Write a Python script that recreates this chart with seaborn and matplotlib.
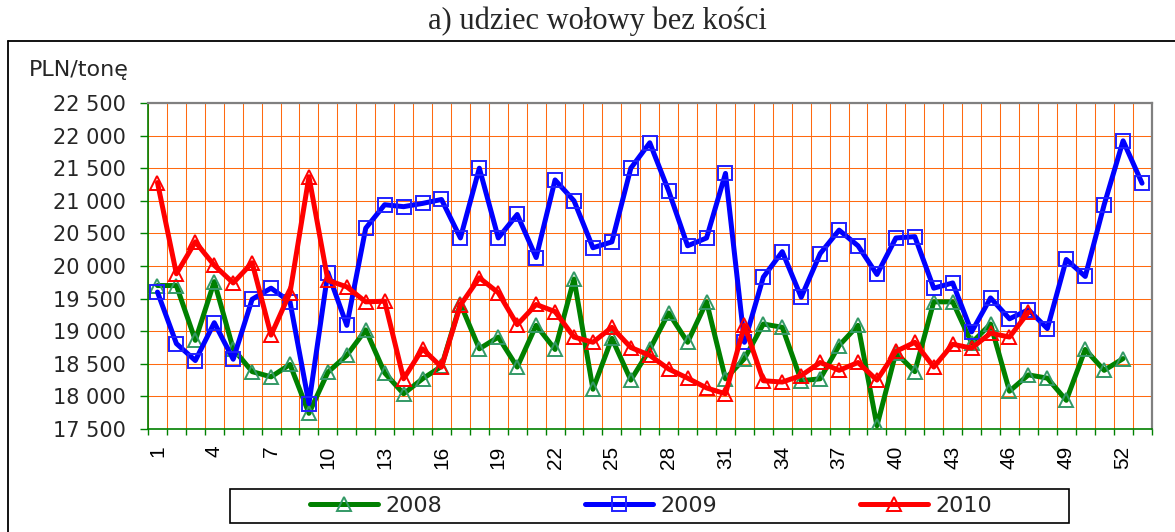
import numpy as np
import pandas as pd
import seaborn as sns
import matplotlib
matplotlib.use("Agg")
import matplotlib.pyplot as plt
from matplotlib.lines import Line2D
from matplotlib.patches import Rectangle
from matplotlib.ticker import FixedLocator, FixedFormatter

# Weekly prices, PLN per tonne
prices_2008 = [19700, 19700, 18860, 19760, 18730, 18380, 18300, 18490, 17740, 18370,
               18630, 19020, 18360, 18040, 18270, 18460, 19420, 18730, 18910, 18450,
               19090, 18720, 19800, 18110, 18890, 18250, 18720, 19280, 18830, 19450,
               18270, 18580, 19110, 19060, 18240, 18270, 18780, 19090, 17550, 18670,
               18380, 19450, 19450, 18820, 19110, 18080, 18330, 18280, 17940, 18720,
               18400, 18580]
prices_2009 = [19600, 18810, 18550, 19130, 18570, 19490, 19660, 19450, 17890, 19900,
               19090, 20580, 20940, 20910, 20960, 21020, 20430, 21500, 20430, 20790,
               20130, 21320, 21000, 20280, 20370, 21500, 21890, 21150, 20310, 20430,
               21420, 18830, 19830, 20220, 19520, 20190, 20550, 20310, 19870, 20430,
               20450, 19660, 19740, 18990, 19510, 19190, 19330, 19040, 20100, 19840,
               20940, 21920, 21270]
prices_2010 = [21280, 19880, 20370, 20010, 19740, 20050, 18940, 19590, 21370, 19780,
               19680, 19450, 19460, 18270, 18730, 18450, 19400, 19820, 19590, 19100,
               19410, 19300, 18910, 18830, 19060, 18750, 18630, 18420, 18280, 18130,
               18040, 19090, 18240, 18220, 18320, 18520, 18400, 18520, 18250, 18690,
               18830, 18450, 18800, 18740, 18970, 18910, 19290]

series_names = ["2008", "2009", "2010"]
n_weeks = 53
x_tick_weeks = list(range(1, n_weeks + 1, 3))
x_tick_labels = [str(w) for w in x_tick_weeks]
y_tick_values = list(range(17500, 22501, 500))
y_tick_labels = [f"{v:,}".replace(",", " ") for v in y_tick_values]

sns.set_style("white")
plt.rcParams["font.family"] = ["DejaVu Sans"]

W, H = 1175, 532
fig = plt.figure(figsize=(W / 100, H / 100), dpi=100)
fig.patch.set_facecolor("white")

# plot area in pixel coordinates
px_left, px_right, px_top, px_bottom = 148, 1151.5, 103, 429
ax = fig.add_axes([px_left / W, 1 - px_bottom / H,
                   (px_right - px_left) / W, (px_bottom - px_top) / H])

styles = {
    "2008": dict(color="#008000", marker="^", markeredgecolor="#339966", markersize=10.5),
    "2009": dict(color="#0000FF", marker="s", markeredgecolor="#2020FF", markersize=9.5),
    "2010": dict(color="#FF0000", marker="^", markeredgecolor="#FF0000", markersize=10.5),
}
all_series = {"2008": prices_2008, "2009": prices_2009, "2010": prices_2010}

for name in series_names:
    vals = all_series[name]
    df = pd.DataFrame({"week": np.arange(1, len(vals) + 1), "price": vals})
    st = styles[name]
    sns.lineplot(data=df, x="week", y="price", ax=ax, errorbar=None, legend=False,
                 color=st["color"], linewidth=3.6, marker=st["marker"],
                 markersize=st["markersize"], markerfacecolor="none",
                 markeredgecolor=st["markeredgecolor"], markeredgewidth=1.4,
                 label=name, zorder=3)

ax.set_xlim(0.5, n_weeks + 0.5)
ax.set_ylim(17500, 22500)
ax.set_xlabel("")
ax.set_ylabel("")

grid_color = "#FF6A10"
ax.xaxis.set_major_locator(FixedLocator(x_tick_weeks))
ax.xaxis.set_major_formatter(FixedFormatter(x_tick_labels))
ax.xaxis.set_minor_locator(FixedLocator(np.arange(0.5, n_weeks + 1, 1.0)))
ax.yaxis.set_major_locator(FixedLocator(y_tick_values))
ax.yaxis.set_major_formatter(FixedFormatter(y_tick_labels))

ax.grid(False)
ax.grid(True, which="minor", axis="x", color=grid_color, linewidth=0.75)
ax.grid(True, which="major", axis="y", color=grid_color, linewidth=0.75)
ax.set_axisbelow(True)

axis_green = "#008000"
ax.tick_params(axis="x", which="major", length=0, pad=12, labelrotation=90,
               labelsize=15, labelcolor="black")
ax.tick_params(axis="x", which="minor", length=4, width=1, color=axis_green,
               direction="out", bottom=True)
ax.tick_params(axis="y", which="major", length=6, width=1, color=axis_green,
               direction="out", pad=10, labelsize=15, left=True)
for lbl in ax.get_xticklabels():
    lbl.set_fontfamily("Liberation Sans")

for side in ("left", "bottom"):
    ax.spines[side].set_color(axis_green)
    ax.spines[side].set_linewidth(1.2)
for side in ("top", "right"):
    ax.spines[side].set_color("#808080")
    ax.spines[side].set_linewidth(1.6)

# chart frame (left and top edges visible)
frame_x, frame_y = 8 / W, 1 - 41 / H
fig.add_artist(Line2D([frame_x, frame_x], [0, frame_y], color="black", lw=1.3,
                      transform=fig.transFigure))
fig.add_artist(Line2D([frame_x, 1], [frame_y, frame_y], color="black", lw=1.3,
                      transform=fig.transFigure))

fig.text(597 / W, 1 - 21 / H, "a) udziec wołowy bez kości", ha="center", va="center",
         fontsize=22, family="Liberation Serif")
fig.text(29 / W, 1 - 70 / H, "PLN/tonę", ha="left", va="center", fontsize=16)

handles = ax.get_lines()[:3]
leg = fig.legend(handles, series_names, loc="center",
                 bbox_to_anchor=(651 / W, 1 - 506 / H), ncol=3, frameon=False,
                 handlelength=3.06, handletextpad=0.36, columnspacing=6.4,
                 fontsize=16, numpoints=1)
fig.add_artist(Rectangle((230 / W, 1 - 523 / H), (1069 - 230) / W, 34 / H,
                         transform=fig.transFigure, fill=False, ec="black", lw=1.2))

fig.savefig("out.png", dpi=100, facecolor="white")
